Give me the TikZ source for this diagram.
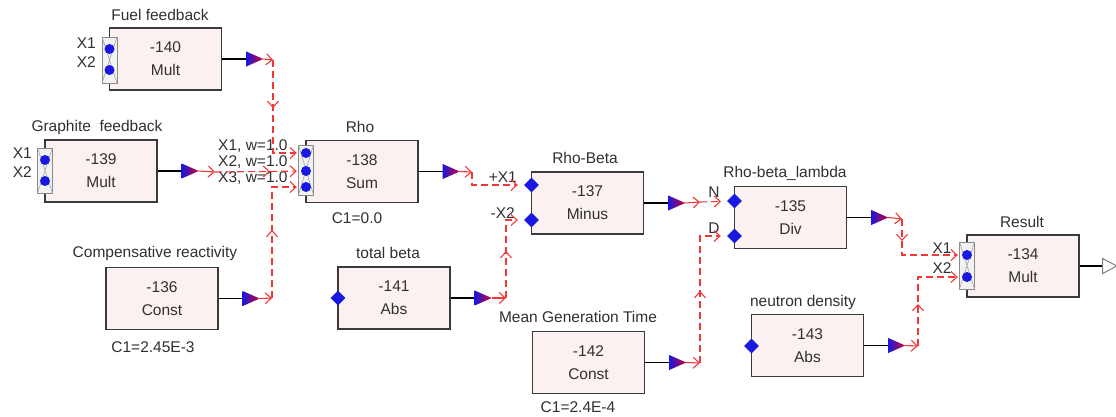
\documentclass[tikz,border=0pt]{standalone}
\usepackage{fontspec}
\setmainfont{Liberation Sans}
\usetikzlibrary{arrows.meta,decorations.markings,shapes.geometric}
\definecolor{boxfill}{HTML}{FCF1F1}
\definecolor{boxline}{HTML}{3A3A3A}
\definecolor{conred}{HTML}{F03838}
\definecolor{portblue}{HTML}{1818E0}
\definecolor{txt}{HTML}{303030}
\definecolor{barline}{HTML}{8A8A8A}
\newcommand\outport[1]{%
  \draw[outline] (#1.east) -- ++(24,0) coordinate (#1-t);
  \shade[left color=portblue, right color=purple!75!red] ([yshift=-7.5pt]#1-t) -- ([xshift=17pt]#1-t) -- ([yshift=7.5pt]#1-t) -- cycle;
  \coordinate (#1-o) at ([xshift=17pt]#1-t);}
\newcommand\portbar[3]{% x, top, bottom
  \draw[barline, fill=white!90!gray, line width=1pt] (#1-7.5,#2) rectangle (#1+7.5,#3);
  \draw[barline!80, line width=0.6pt] (#1-7.5,#2) -- (#1+7.5,#3) (#1+7.5,#2) -- (#1-7.5,#3);}
\begin{document}
\begin{tikzpicture}[x=1pt,y=-1pt,
  every node/.style={text=txt, font=\fontsize{15.5}{18}\selectfont},
  blk/.style={draw=boxline, fill=boxfill, line width=1.4pt, minimum width=112pt, minimum height=62pt, inner sep=0pt, align=center, font=\fontsize{15.5}{23}\selectfont},
  lbl/.style={inner sep=0pt},
  outline/.style={draw=black, line width=1.8pt},
  conn/.style={draw=conred, line width=1.1pt, dash pattern=on 7pt off 4pt, -{Straight Barb[length=6pt,width=11pt]}},
  stub/.style={draw=conred, line width=1.1pt, -{Straight Barb[length=6pt,width=11pt]}},
  midarr/.style={postaction={decorate}, decoration={markings, mark=at position #1 with {\arrow[conred, line width=1.1pt]{Straight Barb[length=6pt,width=11pt]}}}},
  dot/.style={circle, fill=portblue, minimum size=10pt, inner sep=0pt},
  dia/.style={diamond, fill=portblue, minimum size=15pt, inner sep=0pt}
]
\useasboundingbox (0,0) rectangle (1116,416);

% ---------- blocks ----------
\node[blk] (b140) at (165.5,59) {-140\\Mult};
\node[blk] (b139) at (101,171) {-139\\Mult};
\node[blk] (b138) at (362,171.5) {-138\\Sum};
\node[blk] (b137) at (587.5,203) {-137\\Minus};
\node[blk] (b136) at (162,298.5) {-136\\Const};
\node[blk] (b141) at (394,298) {-141\\Abs};
\node[blk] (b135) at (790.5,217.5) {-135\\Div};
\node[blk] (b134) at (1023,266) {-134\\Mult};
\node[blk] (b142) at (588.5,362.5) {-142\\Const};
\node[blk] (b143) at (807.5,345.5) {-143\\Abs};

% ---------- titles ----------
\node[lbl] (t140) at (160,15) {Fuel feedback};
\node[lbl] (t139) at (97,127) {Graphite\ \ feedback};
\node[lbl] (t138) at (360,127) {Rho};
\node[lbl] (t137) at (585,158) {Rho-Beta};
\node[lbl] (t135) at (785,173) {Rho-beta\_lambda};
\node[lbl] (t134) at (1022,222) {Result};
\node[lbl] (t136) at (155,253) {Compensative reactivity};
\node[lbl] (t141) at (388,253) {total beta};
\node[lbl] (t142) at (578,317) {Mean Generation Time};
\node[lbl] (t143) at (803,302) {neutron density};
\node[lbl] (c138) at (357,218) {C1=0.0};
\node[lbl] (c136) at (153,347) {C1=2.45E-3};
\node[lbl] (c142) at (578,407) {C1=2.4E-4};

% ---------- input port bars ----------
\portbar{109.5}{37}{83}
\node[dot] (p140a) at (109.5,49) {};
\node[dot] (p140b) at (109.5,70) {};
\portbar{45}{148}{193}
\node[dot] (p139a) at (45,160) {};
\node[dot] (p139b) at (45,181) {};
\portbar{306}{145}{195}
\node[dot] (p138a) at (306,153) {};
\node[dot] (p138b) at (306,171) {};
\node[dot] (p138c) at (306,187) {};
\portbar{967}{242}{289}
\node[dot] (p134a) at (967,255) {};
\node[dot] (p134b) at (967,277) {};
\node[dia] (p137a) at (531.5,185) {};
\node[dia] (p137b) at (531.5,220) {};
\node[dia] (p135a) at (734.5,201) {};
\node[dia] (p135b) at (734.5,236) {};
\node[dia] (p141) at (338,298) {};
\node[dia] (p143) at (751.5,346) {};

% ---------- port labels ----------
\node[lbl, anchor=east] (x140a) at (96,43) {X1};
\node[lbl, anchor=east] (x140b) at (96,62) {X2};
\node[lbl, anchor=east] (x139a) at (32,153) {X1};
\node[lbl, anchor=east] (x139b) at (32,172) {X2};
\node[lbl, anchor=west] (x138a) at (218,146) {X1, w=1.0};
\node[lbl, anchor=west] (x138b) at (218,162) {X2, w=1.0};
\node[lbl, anchor=west] (x138c) at (218,178) {X3, w=1.0};
\node[lbl, anchor=east] (x137a) at (517,177) {+X1};
\node[lbl, anchor=east] (x137b) at (515,213) {-X2};
\node[lbl] (x135a) at (714,192) {N};
\node[lbl] (x135b) at (714,228) {D};
\node[lbl] (x134a) at (942,248) {X1};
\node[lbl] (x134b) at (942,268) {X2};

% ---------- outputs ----------
\outport{b140}
\outport{b139}
\outport{b138}
\outport{b137}
\outport{b136}
\outport{b141}
\outport{b135}
\outport{b142}
\outport{b143}
\draw[outline] (b134.east) -- ++(23,0) coordinate (b134-t);
\draw[draw=gray, fill=white, line width=1pt] ([yshift=-7.5pt]b134-t) -- ([xshift=14pt]b134-t) -- ([yshift=7.5pt]b134-t) -- cycle;

% ---------- corner coordinates ----------
\coordinate (k140) at (273,60);
\coordinate (k139) at (215,172);
\coordinate (k138) at (472,172);
\coordinate (k136) at (272,298);
\coordinate (k141) at (506,298);
\coordinate (k137) at (700,202);
\coordinate (k142) at (700,363);
\coordinate (k135) at (902,219);
\coordinate (k143) at (918,346);

% ---------- connectors ----------
\draw[stub] (b140-o) -- (k140);
\draw[conn, shorten >=4pt, midarr=48pt] (k140) -- (k140 |- p138a) -- (p138a);
\draw[stub] (b139-o) -- (k139);
\draw[conn, shorten >=4pt, midarr=55pt] (k139) -- (p138b);
\draw[stub] (b136-o) -- (k136);
\draw[conn, shorten >=4pt, midarr=68pt] (k136) -- (k136 |- p138c) -- (p138c);
\draw[stub] (b138-o) -- (k138);
\draw[conn, shorten >=6pt] (k138) -- (k138 |- p137a) -- (p137a);
\draw[stub] (b141-o) -- (k141);
\draw[conn, shorten >=6pt, midarr=47pt] (k141) -- (k141 |- p137b) -- (p137b);
\draw[stub] (b137-o) -- (k137);
\draw[conn, shorten >=6pt] (k137) -- (p135a);
\draw[stub] (b142-o) -- (k142);
\draw[conn, shorten >=6pt, midarr=72pt] (k142) -- (k142 |- p135b) -- (p135b);
\draw[stub] (b135-o) -- (k135);
\draw[conn, shorten >=4pt, midarr=22pt] (k135) -- (k135 |- p134a) -- (p134a);
\draw[stub] (b143-o) -- (k143);
\draw[conn, shorten >=4pt, midarr=42pt] (k143) -- (k143 |- p134b) -- (p134b);
\end{tikzpicture}
\end{document}
